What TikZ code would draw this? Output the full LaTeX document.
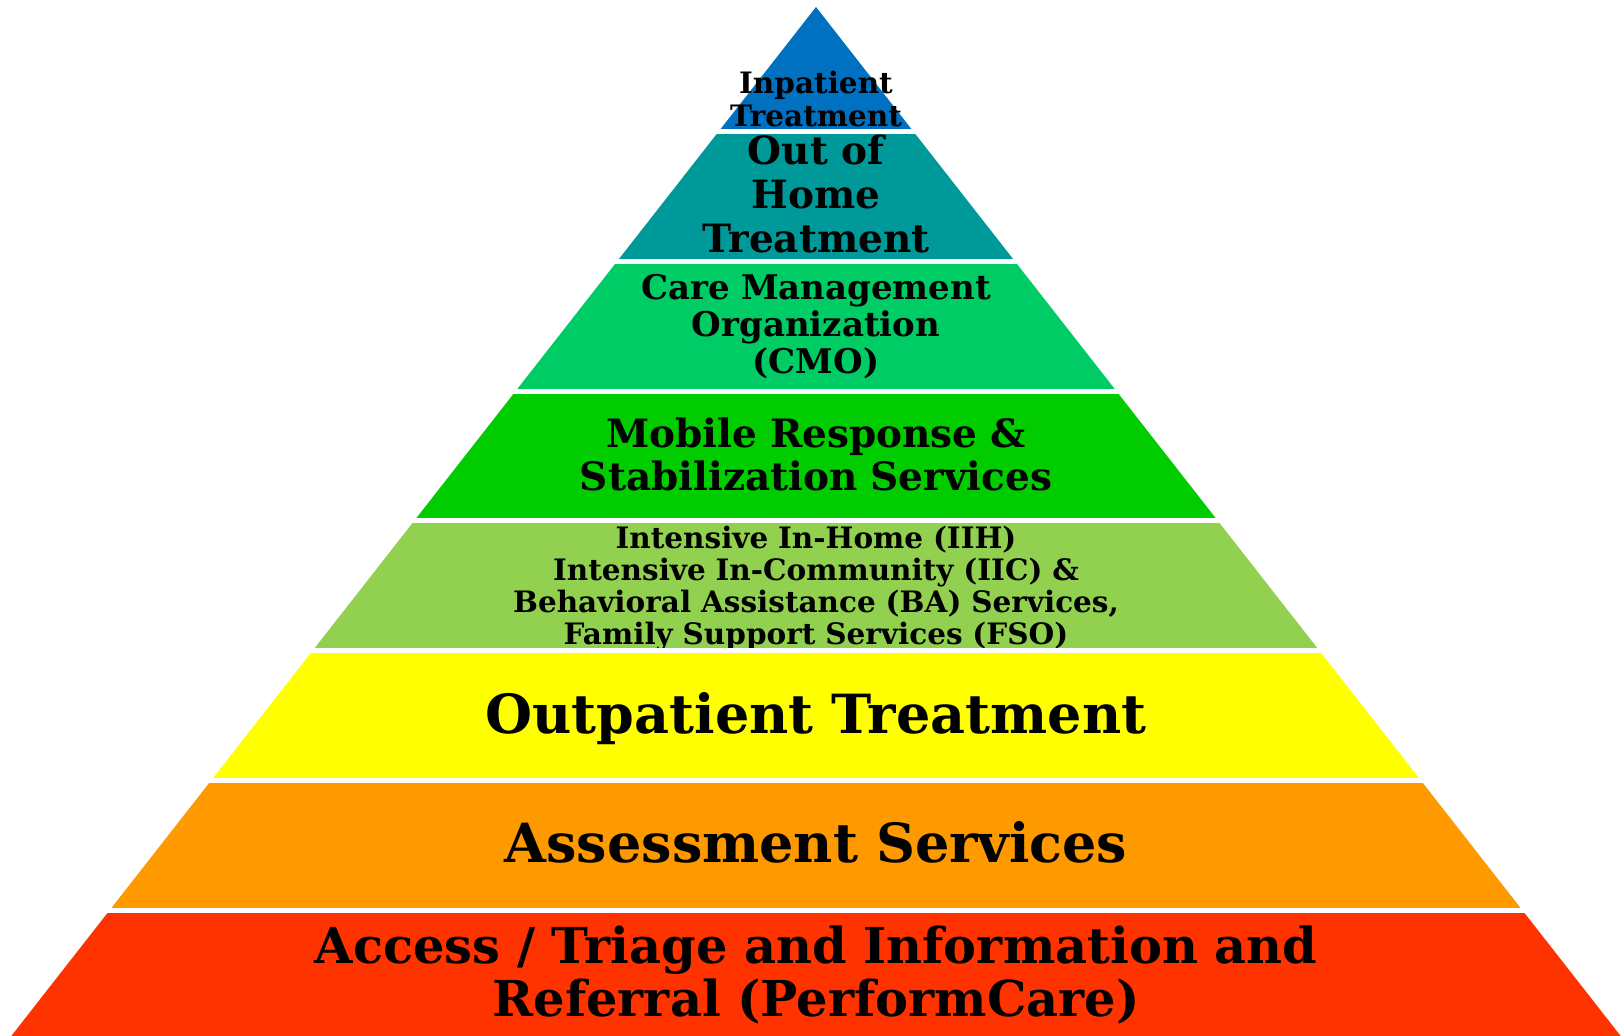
\documentclass[tikz,border=0pt]{standalone}
\usepackage{fontspec}
\setmainfont{DejaVu Serif}
\definecolor{cBlue}{HTML}{0070C0}
\definecolor{cTeal}{HTML}{009999}
\definecolor{cCmo}{HTML}{00CC66}
\definecolor{cMob}{HTML}{00CC00}
\definecolor{cIih}{HTML}{92D050}
\definecolor{cYel}{HTML}{FFFF00}
\definecolor{cOra}{HTML}{FF9900}
\definecolor{cRed}{HTML}{FF3300}
\begin{document}
\begin{tikzpicture}[x=1pt,y=-1pt,
  lbl/.style 2 args={anchor=base, inner sep=0pt, text width=1300pt, align=center,
    font=\bfseries\fontsize{#1}{#2}\selectfont},
]
\useasboundingbox (0,0) rectangle (1623,1036);
\def\pyr{(816,7) -- (11.3,1036) -- (1620.7,1036) -- cycle}
% bands: top, bottom, colour
\foreach \t/\b/\c in {0/128/cBlue, 134/258/cTeal, 264/388/cCmo, 394/517/cMob,
                      523/647/cIih, 653/777/cYel, 783/907/cOra, 913/1036/cRed}{
  \begin{scope}
    \clip (0,\t) rectangle (1623,\b);
    \fill[\c] \pyr;
  \end{scope}
}
\node[lbl={29.5}{33}] (inpat) at (816,93) {Inpatient\\Treatment};
\node[lbl={39}{44}] (ooh) at (816,164) {Out of\\Home\\Treatment};
\node[lbl={34}{37}] (cmo) at (816,299) {Care Management\\Organization\\(CMO)};
\node[lbl={39}{43}] (mrss) at (816,447) {Mobile Response \&\\Stabilization Services};
\begin{scope}
  \clip (0,523) rectangle (1623,647);
  \node[lbl={29.5}{32.3}] (iih) at (816,548) {Intensive In-Home (IIH)\\Intensive In-Community (IIC) \&\\Behavioral Assistance (BA) Services,\\Family Support Services (FSO)};
\end{scope}
\node[lbl={54}{60}] (outp) at (816,733) {Outpatient Treatment};
\node[lbl={54}{60}] (assess) at (816,862) {Assessment Services};
\node[lbl={49.5}{53}] (access) at (816,963) {Access / Triage and Information and\\Referral (PerformCare)};
\end{tikzpicture}
\end{document}
